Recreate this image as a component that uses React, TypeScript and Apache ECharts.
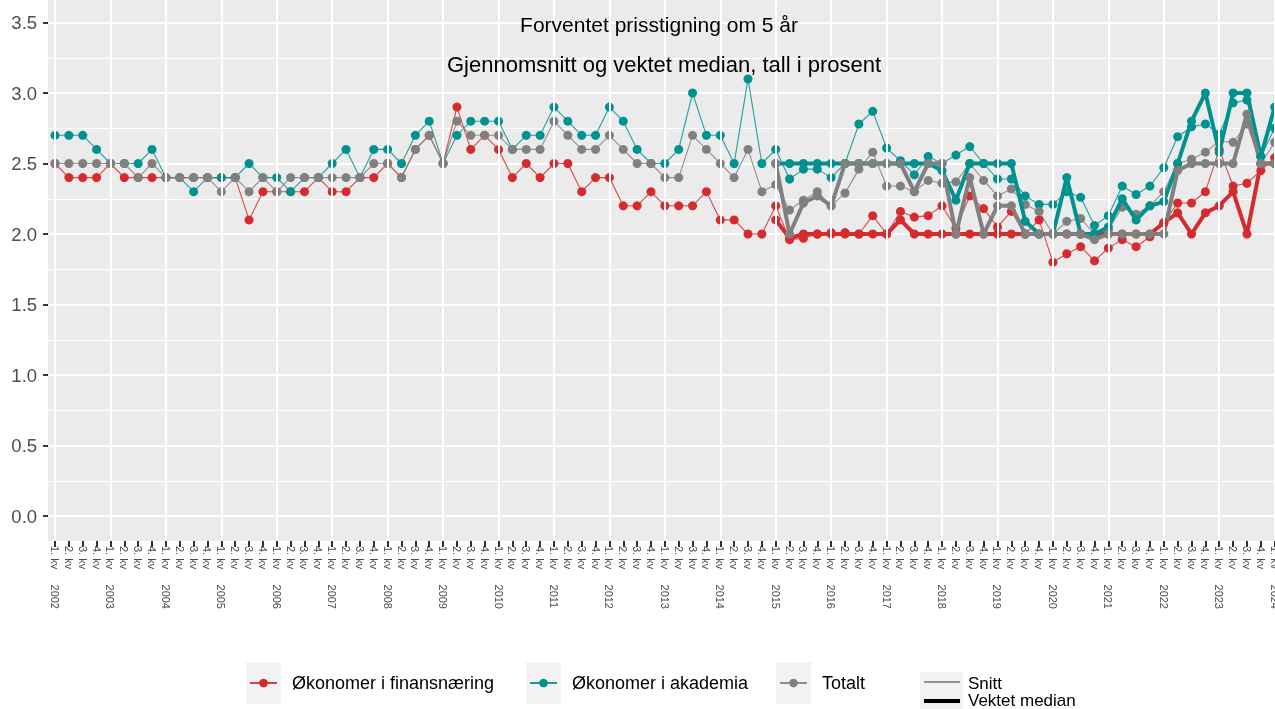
import React, { useEffect, useRef } from 'react';
import * as echarts from 'echarts';

const FONT = '"Liberation Sans", Arial, Helvetica, sans-serif';
const RED = '#D52B2E';
const TEAL = '#00928F';
const GRAY = '#808080';

const years = [2002, 2003, 2004, 2005, 2006, 2007, 2008, 2009, 2010, 2011, 2012, 2013, 2014, 2015, 2016, 2017, 2018, 2019, 2020, 2021, 2022, 2023, 2024];
const quarterNames = ['1. kv', '2. kv', '3. kv', '4. kv'];
const lastYearQuarters = 1; // 2024: only 1. kv

// Snitt (mean), 1. kv 2002 – 1. kv 2024
const finansSnitt = [
  2.5, 2.4, 2.4, 2.4, 2.5, 2.4, 2.4, 2.4, 2.4, 2.4,
  2.4, 2.4, 2.4, 2.4, 2.1, 2.3, 2.3, 2.3, 2.3, 2.4,
  2.3, 2.3, 2.4, 2.4, 2.5, 2.4, 2.6, 2.7, 2.5, 2.9,
  2.6, 2.7, 2.6, 2.4, 2.5, 2.4, 2.5, 2.5, 2.3, 2.4,
  2.4, 2.2, 2.2, 2.3, 2.2, 2.2, 2.2, 2.3, 2.1, 2.1,
  2.0, 2.0, 2.2, 1.96, 1.97, 2.0, 2.01, 2.01, 2.0, 2.13,
  2.0, 2.16, 2.12, 2.13, 2.2, 2.04, 2.27, 2.18, 2.05, 2.16,
  2.0, 2.1, 1.8, 1.86, 1.91, 1.81, 1.9, 1.96, 1.91, 1.98,
  2.08, 2.22, 2.22, 2.3, 2.6, 2.34, 2.36, 2.45, 2.54,
];
const akademiaSnitt = [
  2.7, 2.7, 2.7, 2.6, 2.5, 2.5, 2.5, 2.6, 2.4, 2.4,
  2.3, 2.4, 2.4, 2.4, 2.5, 2.4, 2.4, 2.3, 2.4, 2.4,
  2.5, 2.6, 2.4, 2.6, 2.6, 2.5, 2.7, 2.8, 2.5, 2.7,
  2.8, 2.8, 2.8, 2.6, 2.7, 2.7, 2.9, 2.8, 2.7, 2.7,
  2.9, 2.8, 2.6, 2.5, 2.5, 2.6, 3.0, 2.7, 2.7, 2.5,
  3.1, 2.5, 2.6, 2.39, 2.46, 2.46, 2.4, 2.5, 2.78, 2.87,
  2.61, 2.52, 2.42, 2.55, 2.5, 2.56, 2.62, 2.5, 2.39, 2.39,
  2.27, 2.21, 2.21, 2.3, 2.26, 2.06, 2.13, 2.34, 2.28, 2.34,
  2.47, 2.69, 2.76, 2.78, 2.71, 2.93, 2.95, 2.55, 2.75,
];
const totaltSnitt = [
  2.5, 2.5, 2.5, 2.5, 2.5, 2.5, 2.4, 2.5, 2.4, 2.4,
  2.4, 2.4, 2.3, 2.4, 2.3, 2.4, 2.3, 2.4, 2.4, 2.4,
  2.4, 2.4, 2.4, 2.5, 2.5, 2.4, 2.6, 2.7, 2.5, 2.8,
  2.7, 2.7, 2.7, 2.6, 2.6, 2.6, 2.8, 2.7, 2.6, 2.6,
  2.7, 2.6, 2.5, 2.5, 2.4, 2.4, 2.7, 2.6, 2.5, 2.4,
  2.6, 2.3, 2.35, 2.17, 2.24, 2.3, 2.2, 2.29, 2.46, 2.58,
  2.34, 2.34, 2.3, 2.38, 2.36, 2.37, 2.5, 2.38, 2.27, 2.32,
  2.21, 2.16, 2.0, 2.09, 2.11, 2.0, 2.03, 2.19, 2.14, 2.2,
  2.3, 2.5, 2.53, 2.58, 2.66, 2.65, 2.78, 2.5, 2.65,
];

// Vektet median, 1. kv 2015 – 1. kv 2024
const medianStartYear = 2015;
const finansMedian = [
  2.1, 1.97, 2.0, 2.0, 2.0, 2.0, 2.0, 2.0, 2.0, 2.1,
  2.0, 2.0, 2.0, 2.0, 2.0, 2.0, 2.0, 2.0, 2.0, 2.0,
  2.0, 2.0, 2.0, 2.0, 2.0, 2.0, 2.0, 2.0, 2.08, 2.15,
  2.0, 2.15, 2.2, 2.3, 2.0, 2.5, 2.5,
];
const akademiaMedian = [
  2.5, 2.5, 2.5, 2.5, 2.5, 2.5, 2.5, 2.5, 2.5, 2.5,
  2.5, 2.5, 2.45, 2.24, 2.5, 2.5, 2.5, 2.5, 2.09, 2.0,
  2.0, 2.4, 2.0, 2.0, 2.05, 2.25, 2.1, 2.2, 2.23, 2.5,
  2.8, 3.0, 2.58, 3.0, 3.0, 2.55, 2.9,
];
const totaltMedian = [
  2.5, 2.0, 2.22, 2.27, 2.2, 2.5, 2.5, 2.5, 2.5, 2.5,
  2.3, 2.5, 2.5, 2.0, 2.4, 2.0, 2.2, 2.2, 2.0, 2.0,
  2.0, 2.0, 2.0, 1.96, 2.0, 2.0, 2.0, 2.0, 2.0, 2.45,
  2.5, 2.5, 2.5, 2.5, 2.85, 2.5, 2.5,
];

const yTicks = [0, 0.5, 1.0, 1.5, 2.0, 2.5, 3.0, 3.5];

const seriesNames = ['Økonomer i finansnæring', 'Økonomer i akademia', 'Totalt'];
const lineTypeNames = ['Snitt', 'Vektet median'];

const categories: string[] = [];
const yearCategories: string[] = [];
years.forEach((y, yi) => {
  const nq = yi === years.length - 1 ? lastYearQuarters : 4;
  for (let q = 0; q < nq; q++) {
    const label = q === 0 ? `${quarterNames[q]}     ${y}` : quarterNames[q];
    categories.push(label);
    if (q === 0) yearCategories.push(label);
  }
});

function padMedian(arr: number[]) {
  const start = years.indexOf(medianStartYear) * 4;
  const out: (number | null)[] = categories.map(() => null);
  arr.forEach((v, k) => { out[start + k] = v; });
  return out;
}

export default function App() {
  const ref = useRef<HTMLDivElement>(null);
  useEffect(() => {
    if (!ref.current) return;
    const chart = echarts.init(ref.current, undefined, { renderer: 'svg' });

    const step = 13.86;
    const gridLeft = 55 - step / 2;
    const gridWidth = step * categories.length;

    const mkSnitt = (name: string, data: (number | null)[], color: string, z: number) => ({
      name, type: 'line', data, xAxisIndex: 0, yAxisIndex: 0, z,
      symbol: 'circle', symbolSize: 9, showSymbol: true,
      lineStyle: { width: 1.1, color, opacity: 0.85 },
      itemStyle: { color },
      emphasis: { disabled: true },
    });
    const mkMedian = (name: string, data: (number | null)[], color: string, z: number) => ({
      name: name + ' (vektet median)', type: 'line', data, xAxisIndex: 0, yAxisIndex: 0, z,
      symbol: 'circle', symbolSize: 9, showSymbol: true,
      lineStyle: { width: 4, color },
      itemStyle: { color },
      emphasis: { disabled: true },
    });

    const legendX = [246, 526, 776];
    const legendColors = [RED, TEAL, GRAY];
    const legendGraphics: any[] = [];
    seriesNames.forEach((n, k) => {
      const x0 = legendX[k];
      legendGraphics.push(
        { type: 'rect', shape: { x: x0, y: 662, width: 35, height: 42 }, style: { fill: '#F2F2F2' }, silent: true },
        { type: 'line', shape: { x1: x0 + 4, y1: 683, x2: x0 + 31, y2: 683 }, style: { stroke: legendColors[k], lineWidth: 1.8 }, silent: true },
        { type: 'circle', shape: { cx: x0 + 17.5, cy: 683, r: 4.3 }, style: { fill: legendColors[k] }, silent: true },
        { type: 'text', x: x0 + 46, y: 683, style: { text: n, fontSize: 18, fontFamily: FONT, fill: '#000', textVerticalAlign: 'middle', textAlign: 'left' }, silent: true },
      );
    });
    legendGraphics.push(
      { type: 'rect', shape: { x: 920, y: 672, width: 43, height: 19 }, style: { fill: '#F2F2F2' }, silent: true },
      { type: 'rect', shape: { x: 920, y: 691, width: 43, height: 19 }, style: { fill: '#F2F2F2' }, silent: true },
      { type: 'line', shape: { x1: 924, y1: 682, x2: 960, y2: 682 }, style: { stroke: '#000', lineWidth: 0.8 }, silent: true },
      { type: 'line', shape: { x1: 924, y1: 701, x2: 960, y2: 701 }, style: { stroke: '#000', lineWidth: 4 }, silent: true },
      { type: 'text', x: 968, y: 683, style: { text: lineTypeNames[0], fontSize: 17, fontFamily: FONT, fill: '#000', textVerticalAlign: 'middle' }, silent: true },
      { type: 'text', x: 968, y: 700, style: { text: lineTypeNames[1], fontSize: 17, fontFamily: FONT, fill: '#000', textVerticalAlign: 'middle' }, silent: true },
    );

    const option: any = {
      animation: false,
      textStyle: { fontFamily: FONT },
      title: [
        { text: 'Forventet prisstigning om 5 år', left: 659, top: 14, textAlign: 'center', padding: 0,
          textStyle: { fontSize: 21, fontWeight: 'normal', color: '#000', fontFamily: FONT } },
        { text: 'Gjennomsnitt og vektet median, tall i prosent', left: 664, top: 53, textAlign: 'center', padding: 0,
          textStyle: { fontSize: 22, fontWeight: 'normal', color: '#000', fontFamily: FONT } },
      ],
      grid: [
        { left: gridLeft, top: 22.5, width: gridWidth, height: 493.5, containLabel: false, outerBoundsMode: 'none' },
        { left: gridLeft, top: -5, width: gridWidth, height: 546, containLabel: false, outerBoundsMode: 'none' },
      ],
      xAxis: [
        { type: 'category', gridIndex: 0, data: categories, boundaryGap: true, show: false },
        {
          type: 'category', gridIndex: 1, data: categories, boundaryGap: true, position: 'bottom',
          axisLine: { show: true, onZero: false, lineStyle: { color: '#EBEBEB', width: 0.1, opacity: 0 } },
          axisTick: { show: true, alignWithLabel: true, inside: false, interval: 0, length: 6, lineStyle: { color: '#333333', width: 2 } },
          axisLabel: { interval: 0, rotate: -90, fontSize: 11, color: '#4D4D4D', margin: 5, fontFamily: FONT },
          splitLine: { show: false },
        },
      ],
      yAxis: [
        {
          type: 'value', gridIndex: 0, min: yTicks[0], max: yTicks[yTicks.length - 1], interval: 0.5,
          axisLine: { show: false },
          axisTick: { show: true, length: 5, lineStyle: { color: '#333333', width: 2 } },
          axisLabel: { fontSize: 18.5, color: '#4D4D4D', margin: 11, fontFamily: FONT, formatter: (v: number) => v.toFixed(1) },
          splitLine: { show: true, lineStyle: { color: '#FFFFFF', width: 2 } },
          minorTick: { show: false, splitNumber: 2 },
          minorSplitLine: { show: true, lineStyle: { color: '#FFFFFF', width: 1 } },
        },
        { type: 'value', gridIndex: 1, min: 0, max: 1, show: false },
      ],
      graphic: [
        { type: 'rect', z: -100, shape: { x: gridLeft, y: 0, width: 1300, height: 541 }, style: { fill: '#EBEBEB' }, silent: true },
        ...legendGraphics,
      ],
      series: [
        {
          name: 'gridlines', type: 'line', xAxisIndex: 1, yAxisIndex: 1, z: 1, data: categories.map(() => null),
          showSymbol: false, silent: true,
          markLine: {
            silent: true, symbol: ['none', 'none'], label: { show: false }, animation: false,
            lineStyle: { color: '#FFFFFF', width: 2, type: 'solid' },
            emphasis: { disabled: true },
            data: yearCategories.map((c) => ({ xAxis: c })),
          },
        },
        mkSnitt(seriesNames[0], finansSnitt, RED, 2),
        mkSnitt(seriesNames[1], akademiaSnitt, TEAL, 2),
        mkSnitt(seriesNames[2], totaltSnitt, GRAY, 2),
        mkMedian(seriesNames[0], padMedian(finansMedian), RED, 3),
        mkMedian(seriesNames[1], padMedian(akademiaMedian), TEAL, 3),
        mkMedian(seriesNames[2], padMedian(totaltMedian), GRAY, 3),
      ],
    };
    chart.setOption(option);
    return () => chart.dispose();
  }, []);
  return <div ref={ref} style={{ position: 'fixed', left: 0, top: 0, width: 1275, height: 709 }} />;
}
